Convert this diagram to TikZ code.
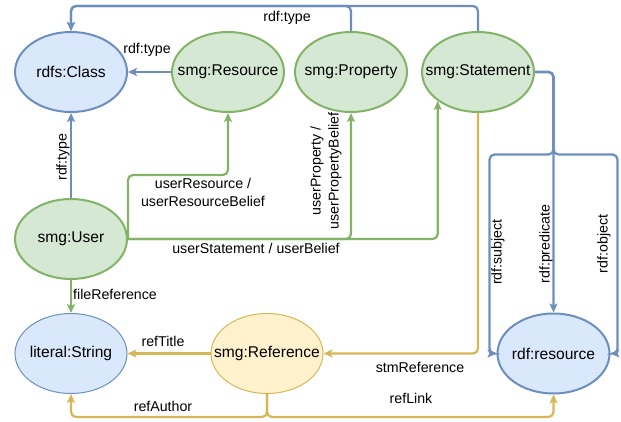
\documentclass[tikz,border=0pt]{standalone}
\usepackage{fontspec}
\setmainfont{Liberation Sans}
\usepackage{tikz}
\usetikzlibrary{positioning,arrows.meta,shapes.geometric,calc}
\usepackage{xcolor}
\definecolor{bluefill}{HTML}{DAE8FC}
\definecolor{blueline}{HTML}{6C8EBF}
\definecolor{greenfill}{HTML}{D5E8D4}
\definecolor{greenline}{HTML}{82B366}
\definecolor{yellowfill}{HTML}{FFF2CC}
\definecolor{yellowline}{HTML}{D6B656}

\begin{document}
\begin{tikzpicture}[
                x=1pt, y=-1pt,
                node distance=40pt,
                ent/.style={ellipse, draw, line width=2pt, minimum width=112pt, minimum height=80pt, inner sep=0pt,
                    font=\fontsize{15.6}{18}\selectfont,
                    execute at begin node={\hbox to 0pt\bgroup\hss}, execute at end node={\hss\egroup}},
                blu/.style={fill=bluefill, draw=blueline},
                grn/.style={fill=greenfill, draw=greenline},
                ylw/.style={fill=yellowfill, draw=yellowline},
                lnk/.style={line width=2.2pt, rounded corners=5pt, -{Stealth[length=9pt, width=8pt, inset=2pt]}},
                lbl/.style={font=\fontsize{14.2}{18}\selectfont, inner sep=0pt, align=center}
            ]
                \useasboundingbox (0,0) rectangle (621,422);

                % Top row
                \node[ent, blu] (cls) at (71,72) {rdfs:Class};
                \node[ent, grn, right=43pt of cls] (res) {smg:Resource};
                \node[ent, grn, right=9pt of res] (prop) {smg:Property};
                \node[ent, grn, right=13pt of prop] (stm) {smg:Statement};

                % Left column and bottom row
                \node[ent, grn, below=85pt of cls] (usr) {smg:User};
                \node[ent, blu, line width=1pt, below=33pt of usr] (str) {literal:String};
                \node[ent, ylw, line width=1pt, right=83pt of str] (ref) {smg:Reference};
                \node[ent, blu, right=173pt of ref] (rsc) {rdf:resource};

                % rdf:type
                \draw[lnk, blueline] (stm.north) -- ++(0,-25) -| (cls.north);
                \draw[lnk, blueline] (prop.north) -- ++(0,-25) -| (cls.north);
                \draw[lnk, blueline] (res) -- (cls);
                \draw[lnk, blueline] (usr) -- (cls);

                % User
                \draw[lnk, greenline] (usr.east) -- ++(0,-64) -| (res.south);
                \draw[lnk, greenline] (usr.east) -| (prop.south);
                \draw[lnk, greenline] (usr.east) -| (stm.south west);
                \draw[lnk, greenline] (usr) -- (str);

                % Statement parts
                \coordinate (fork) at ($(rsc.north)+(0,-158)$);
                \draw[lnk, blueline] (stm.east) -| (rsc.north);
                \draw[lnk, blueline] (stm.east) -| (fork) -- ++(-64,0) |- (rsc.west);
                \draw[lnk, blueline] (stm.east) -| (fork) -- ++(64,0) |- (rsc.east);

                % Reference
                \draw[lnk, yellowline] (ref) -- (str);
                \draw[lnk, yellowline] (stm.south) |- (ref.east);
                \draw[lnk, yellowline] (ref.south) -- ++(0,23) -| (str.south);
                \draw[lnk, yellowline] (ref.south) -- ++(0,23) -| (rsc.south);

                % Labels
                \node[lbl] (typetop) at (287,18) {rdf:type};
                \node[lbl] (typeres) at (147,50) {rdf:type};
                \node[lbl, rotate=90] (typeusr) at (63,157) {rdf:type};
                \node[lbl] (usrres) at (203,192) {userResource /\\userResourceBelief};
                \node[lbl, rotate=90] (usrprop) at (326,171) {userProperty /\\userPropertyBelief};
                \node[lbl] (usrstm) at (256,248) {userStatement / userBelief};
                \node[lbl] (fileref) at (115,294) {fileReference};
                \node[lbl, rotate=90] (subj) at (498,252) {rdf:subject};
                \node[lbl, rotate=90] (pred) at (546,244) {rdf:predicate};
                \node[lbl, rotate=90] (obj) at (604,244) {rdf:object};
                \node[lbl] (title) at (163,341) {refTitle};
                \node[lbl] (stmref) at (420,367) {stmReference};
                \node[lbl] (author) at (163,406) {refAuthor};
                \node[lbl] (link) at (411,398) {refLink};
            \end{tikzpicture}
\end{document}
